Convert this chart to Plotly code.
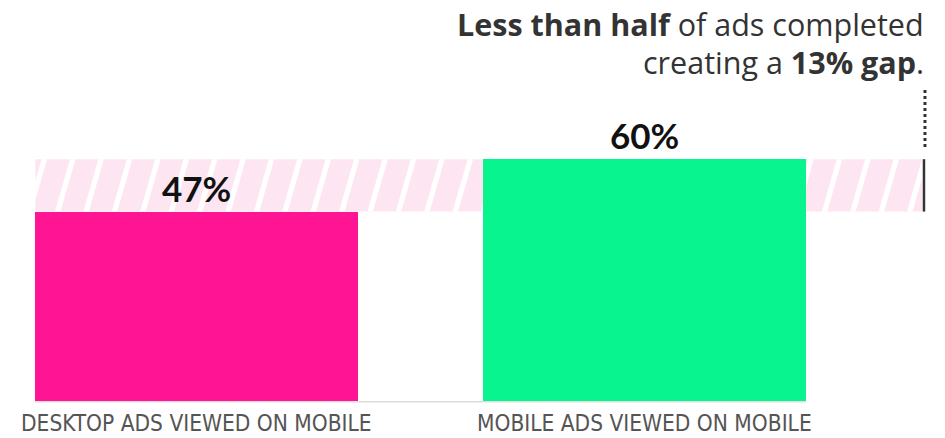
import plotly.graph_objects as go

# Completion rates by ad type
categories = ["DESKTOP ADS VIEWED ON MOBILE", "MOBILE ADS VIEWED ON MOBILE"]
values = [47, 60]
bar_colors = ["#FF1493", "#08F48E"]
value_labels = ["47%", "60%"]
headline = ["<b>Less than half</b> of ads completed",
            "creating a <b>13% gap</b>."]

W, H = 945, 438
# axis geometry (data units <-> pixels)
x_range = [-0.4386, 1.6708]
y_range = [-9.18, 99.5]
px_x = W / (x_range[1] - x_range[0])
px_y = H / (y_range[1] - y_range[0])

bar_width = 0.72
band_left = -bar_width / 2
band_right = 1.6194
lo, hi = min(values), max(values)

fig = go.Figure()
fig.add_trace(go.Bar(
    x=[0, 1], y=values, width=bar_width,
    marker=dict(color=bar_colors, line=dict(width=0)),
    hoverinfo="skip", showlegend=False,
))

shapes = []
# gap band between the two rates
shapes.append(dict(type="rect", layer="below", x0=band_left, x1=band_right,
                   y0=lo, y1=hi, fillcolor="#FDE5F2", line=dict(width=0)))
# diagonal white stripes across the band
slant_px = 15
spacing_px = 28.4
stripe_px = 5.5
dx_slant = slant_px / px_x
dx_w = stripe_px / px_x
k = -3
while True:
    top_x = band_right - (k * spacing_px) / px_x
    k += 1
    if top_x < band_left - 0.1:
        break
    bx = top_x - dx_slant
    path = (f"M {bx},{lo} L {bx + dx_w},{lo} L {top_x + dx_w},{hi} "
            f"L {top_x},{hi} Z")
    shapes.append(dict(type="path", layer="below", path=path,
                       fillcolor="white", line=dict(width=0)))
# trim stripes at band ends
shapes.append(dict(type="rect", layer="below", x0=x_range[0], x1=band_left,
                   y0=lo - 1, y1=hi + 1, fillcolor="white", line=dict(width=0)))
shapes.append(dict(type="rect", layer="below", x0=band_right, x1=x_range[1],
                   y0=lo - 1, y1=hi + 1, fillcolor="white", line=dict(width=0)))
# gap marker
mark_x = band_right + 2 / px_x
shapes.append(dict(type="line", x0=mark_x, x1=mark_x, y0=lo, y1=hi,
                   line=dict(color="#333333", width=2.5)))
shapes.append(dict(type="line", x0=mark_x + 1 / px_x, x1=mark_x + 1 / px_x,
                   y0=hi + 3, y1=hi + 17.5,
                   line=dict(color="#333333", width=3, dash="dot")))
# baseline
shapes.append(dict(type="line", x0=band_left, x1=1 + bar_width / 2, y0=-0.2, y1=-0.2,
                   line=dict(color="#DDDDDD", width=1.5)))

annotations = []
for i, (v, lab) in enumerate(zip(values, value_labels)):
    annotations.append(dict(x=i, y=v, text=f"<b>{lab}</b>", showarrow=False,
                            yanchor="bottom", yshift=1,
                            font=dict(family="Lato", size=35, color="#111111")))
for i, c in enumerate(categories):
    annotations.append(dict(x=i, y=0, text=c, showarrow=False,
                            yanchor="top", yshift=-7,
                            font=dict(family="Liberation Sans Narrow, DejaVu Sans Condensed",
                                      size=22.5, color="#555555")))
for j, line in enumerate(headline):
    annotations.append(dict(
        xref="paper", yref="paper", x=926 / W, y=1 - (24 + 38 * j) / H,
        xanchor="right", yanchor="middle", showarrow=False, text=line,
        font=dict(family="Open Sans", size=30.5, color="#333333"),
    ))

fig.update_layout(
    width=W, height=H, margin=dict(l=0, r=0, t=0, b=0),
    paper_bgcolor="white", plot_bgcolor="white",
    xaxis=dict(range=x_range, visible=False, fixedrange=True),
    yaxis=dict(range=y_range, visible=False, fixedrange=True),
    shapes=shapes, annotations=annotations, bargap=0,
)
fig.write_html("out.html")
